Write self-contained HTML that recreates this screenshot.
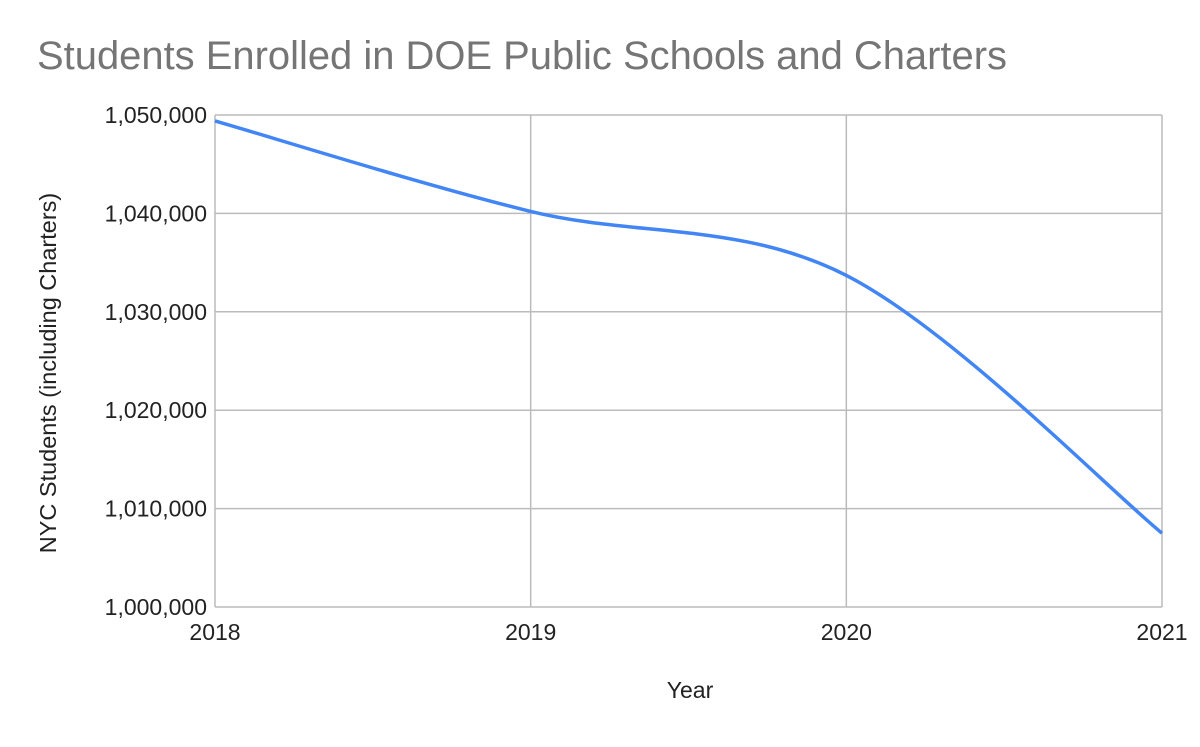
<!DOCTYPE html>
<html><head><meta charset="utf-8"><style>
body{margin:0;background:#fff;}
svg text{font-family:"Liberation Sans",Arial,sans-serif;}
</style></head><body>
<svg id="chart" width="1200" height="742">
<text x="37" y="69" font-size="40" fill="#757575" textLength="970" lengthAdjust="spacingAndGlyphs">Students Enrolled in DOE Public Schools and Charters</text>
<g id="grid"></g>
<g id="ticks"></g>
<text x="690" y="698" font-size="23" fill="#222" text-anchor="middle">Year</text>
<text transform="translate(56,373) rotate(-90)" font-size="23.5" fill="#222" text-anchor="middle">NYC Students (including Charters)</text>
<path id="line" fill="none" stroke="#4285f4" stroke-width="3.5"></path>
</svg>
<script>
const years=[2018,2019,2020,2021];
const students=[1049400,1040200,1033700,1007500];
const yTicks=[1000000,1010000,1020000,1030000,1040000,1050000];
const X0=215,X1=1162,Y0=607,Y1=115;
function xs(v){return X0+(v-years[0])/(years[years.length-1]-years[0])*(X1-X0);}
function ys(v){return Y0-(v-yTicks[0])/(yTicks[yTicks.length-1]-yTicks[0])*(Y0-Y1);}
const NS="http://www.w3.org/2000/svg";
const grid=document.getElementById('grid'),ticks=document.getElementById('ticks');
yTicks.forEach(t=>{
 const l=document.createElementNS(NS,'line');
 
 
 l.setAttribute('x1',X0);l.setAttribute('x2',X1);l.setAttribute('y1',ys(t));l.setAttribute('y2',ys(t));
 l.setAttribute('stroke','#bbb');l.setAttribute('stroke-width',1.5);
 grid.appendChild(l);
 const tx=document.createElementNS(NS,'text');
 
 
 tx.setAttribute('x',X0-8);tx.setAttribute('y',ys(t)+8);tx.setAttribute('text-anchor','end');
 tx.setAttribute('font-size','23');tx.setAttribute('fill','#222');
 tx.textContent=t.toLocaleString('en-US');ticks.appendChild(tx);
});
years.forEach(y=>{
 const l=document.createElementNS(NS,'line');
 
 
 l.setAttribute('x1',xs(y));l.setAttribute('x2',xs(y));l.setAttribute('y1',Y1);l.setAttribute('y2',Y0);
 l.setAttribute('stroke','#bbb');l.setAttribute('stroke-width',1.5);grid.insertBefore(l,grid.firstChild);
 const tx=document.createElementNS(NS,'text');
 
 
 tx.setAttribute('x',xs(y));tx.setAttribute('y',640);tx.setAttribute('text-anchor','middle');
 tx.setAttribute('font-size','23');tx.setAttribute('fill','#222');
 tx.textContent=y;ticks.appendChild(tx);
});
const pts=years.map((y,i)=>[xs(y),ys(students[i])]);
let d='M'+pts[0][0]+','+pts[0][1];
for(let i=0;i<pts.length-1;i++){
 const p0=pts[i-1]||pts[i],p1=pts[i],p2=pts[i+1],p3=pts[i+2]||pts[i+1];
 const k=1/6;
 const c1=[p1[0]+(p2[0]-p0[0])*k,p1[1]+(p2[1]-p0[1])*k];
 const c2=[p2[0]-(p3[0]-p1[0])*k,p2[1]-(p3[1]-p1[1])*k];
 d+=' C'+c1+' '+c2+' '+p2;
}
document.getElementById('line').setAttribute('d',d);
</script>
</body></html>
